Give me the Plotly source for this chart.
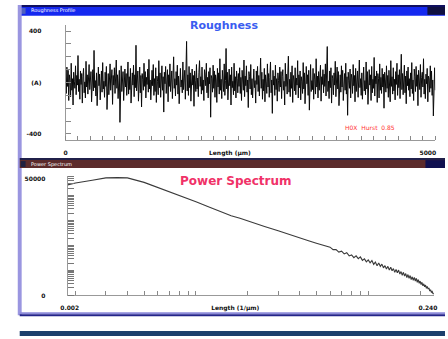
import plotly.graph_objects as go

# ---------------- data ----------------
rough = [
 40, -85, 120, -30, 95, -140, 60, 15, -110, 150, -60, 30, -175, 80, 10, -45, 130, -95, 55, -20,
 210, -70, 25, -130, 90, -15, 70, -160, 45, 110, -80, 5, -120, 165, -35, 60, -90, 20, 140, -55,
 -10, 85, -150, 35, 100, -65, 250, -40, 15, -105, 75, -180, 50, 120, -25, 65, -135, 30, 90, -75,
 155, -50, 10, -115, 80, -30, 125, -210, 40, 70, -95, 20, 145, -60, 5, 100, -170, 55, -20, 115,
 -85, 35, 175, -45, 60, -125, 25, 95, -310, 50, 130, -70, 15, 85, -140, 40, 105, -35, 70, -100,
 20, 160, -90, 45, -55, 110, -160, 30, 75, -20, 135, -110, 60, -40, 290, -65, 10, 90, -145, 35,
 120, -80, 55, -190, 70, 25, -60, 150, -30, 85, -120, 40, -15, 105, -75, 180, -50, 20, -135, 65,
 95, -25, 140, -100, 30, -70, 115, -155, 50, 10, -95, 170, -40, 75, -115, 25, 130, -60, 45, -230,
 80, -10, 125, -85, 35, 100, -150, 60, -30, 145, -70, 15, 90, -125, 55, 200, -45, 30, -105, 85,
 -20, 135, -90, 50, -165, 70, 110, -35, 20, -80, 160, -55, 40, 95, -130, 25, 320, -65, 60, -100,
 125, -40, 75, -145, 30, 105, -20, 55, -185, 90, 15, -70, 140, -50, 35, -110, 80, 170, -30, 45,
 -90, 120, -60, 20, -140, 100, 65, -25, 150, -80, 40, -120, 85, -10, 115, -270, 55, 30, -75, 135,
 -45, 90, -115, 60, 20, -155, 110, -35, 75, -90, 185, -60, 25, -125, 95, 40, -70, 145, -100, 15,
 265, -50, 80, -135, 35, 105, -25, 60, -175, 120, -40, 10, -95, 150, -65, 45, -120, 90, 30, -80,
 70, -30, 115, -85, 40, -140, 95, 10, -60, 175, -110, 50, -25, 130, -75, 20, -195, 85, 45, -50,
 140, -95, 30, -120, 65, 105, -40, 15, -160, 90, -15, 125, -70, 55, -105, 35, 190, -45, 80, -130,
 25, -65, 110, -150, 60, 5, -85, 145, -35, 70, -115, 40, 160, -80, 20, -240, 95, -20, 50, -100,
 135, -55, 30, -145, 75, 15, -70, 120, -35, 85, -125, 45, 100, -60, 10, -175, 150, -30, 65, -90,
 40, 205, -75, 25, -110, 80, -45, 130, -155, 55, 20, -65, 115, -95, 35, -20, 170, -120, 60, -40,
 90, -135, 45, 10, -85, 155, -50, 75, -165, 30, 125, -10, 60, -100, 95, -215, 40, 140, -70, 15,
 -55, 110, -130, 70, 25, -90, 185, -35, 50, -120, 85, -60, 20, 135, -145, 45, -15, 100, -80, 65,
 -30, 145, -105, 35, 280, -70, 10, -125, 90, -40, 115, -160, 55, 30, -95, 75, -20, 165, -110, 40,
 120, -50, 85, -180, 20, 60, -75, 130, -35, 95, -140, 25, 70, -60, 150, -90, 45, -255, 80, 15,
 -45, 105, -120, 65, 35, -85, 140, -25, 55, -150, 110, -70, 20, 90, -115, 50, 175, -40, 30, -100,
 75, -130, 40, 120, -65, 15, -95, 160, -50, 85, -170, 35, 100, -20, 60, -140, 125, -80, 25, -45,
 195, -105, 50, -10, 90, -155, 70, 30, -120, 145, -60, 40, -85, 110, -35, 65, -200, 80, 20, -75,
 130, -45, 55, -115, 95, 10, -150, 170, -30, 45, -90, 115, -65, 25, -135, 85, -15, 150, -100, 60,
 -40, 100, -125, 35, 220, -55, 70, -95, 15, 135, -80, 50, -165, 90, -25, 120, -60, 30, -110, 75,
 -50, 155, -85, 20, -140, 105, 45, -70, 125, -30, 60, -180, 95, 10, -55, 140, -115, 40, 80, -35,
 185, -90, 25, -125, 65, -10, 110, -150, 50, 30, -75, 130, -45, 90, -100, 20, -260, 70, 115, -60,
]
rough_len = 5000

freq = [0.0018, 0.002, 0.0025, 0.003, 0.0035, 0.004, 0.005, 0.006, 0.007, 0.008, 0.009,
        0.01, 0.012, 0.014, 0.016, 0.018, 0.02, 0.025, 0.03, 0.035, 0.04, 0.045, 0.05,
        0.055,
        0.0600, 0.0625, 0.0650, 0.0675, 0.0700, 0.0725, 0.0750, 0.0775, 0.0800, 0.0825,
        0.0850, 0.0875, 0.0900, 0.0925, 0.0950, 0.0975, 0.1000, 0.1025, 0.1050, 0.1075,
        0.1100, 0.1125, 0.1150, 0.1175, 0.1200, 0.1225, 0.1250, 0.1275, 0.1300, 0.1325,
        0.1350, 0.1375, 0.1400, 0.1425, 0.1450, 0.1475, 0.1500, 0.1525, 0.1550, 0.1575,
        0.1600, 0.1625, 0.1650, 0.1675, 0.1700, 0.1725, 0.1750, 0.1775, 0.1800, 0.1825,
        0.1850, 0.1875, 0.1900, 0.1925, 0.1950, 0.1975, 0.2000, 0.2025, 0.2050, 0.2075,
        0.2100, 0.2125, 0.2150, 0.2175, 0.2200, 0.2225, 0.2250, 0.2275, 0.2300, 0.2325,
        0.2350, 0.2375, 0.2400]
power = [27500, 33000, 42500, 52500, 53700, 52500, 34700, 21900, 15100, 10700, 7760,
         5750, 3470, 2240, 1585, 1260, 977, 589, 398, 275, 209, 158, 126,
         100,
         87.1, 69.2, 69.2, 55.0, 60.3, 46.8, 52.5, 38.9, 42.7, 33.1,
         38.9, 30.2, 35.5, 25.7, 29.5, 22.4, 26.9, 20.4, 25.1, 17.8,
         21.9, 15.5, 20.0, 14.8, 18.2, 12.9, 15.8, 11.5, 14.8, 10.5,
         13.5, 9.77, 12.0, 8.51, 11.0, 8.13, 10.5, 7.24, 9.12, 6.46,
         8.51, 6.03, 7.59, 5.25, 6.92, 4.90, 6.31, 4.37, 5.62, 4.07,
         5.37, 3.80, 4.90, 3.39, 4.37, 3.09, 3.80, 2.75, 3.39, 2.45,
         2.95, 2.24, 2.63, 1.95, 2.29, 1.82, 2.00, 1.51, 1.70, 1.35,
         1.45, 1.20, 1.15]

rough_yticks = [-400, 0, 400]
rough_ytext = ["-400", "(A)", "400"]
rough_xticks = [0, 2222, 4900]
rough_xtext = ["0", "Length (µm)", "5000"]
ps_xticks = [0.00185, 0.0169, 0.222]
ps_xtext = ["0.002", "Length (1/µm)", "0.240"]
ps_yticks = [1, 50000]
ps_ytext = ["0", "50000"]

W, H = 448, 339
def px(x): return x / W
def py(y): return 1 - y / H

xs = [i * rough_len / (len(rough) - 1) for i in range(len(rough))]

fig = go.Figure()
fig.add_trace(go.Scatter(x=xs, y=rough, mode="lines",
                         line=dict(color="#0a0a0a", width=1.0),
                         xaxis="x", yaxis="y", showlegend=False, hoverinfo="skip"))
fig.add_trace(go.Scatter(x=freq, y=power, mode="lines",
                         line=dict(color="#3a3a3a", width=1.1),
                         xaxis="x2", yaxis="y2", showlegend=False, hoverinfo="skip"))

tickfont = dict(family="DejaVu Sans", size=6, color="#111111", weight="bold")

log_minor_x = [m * 10 ** e for e in (-3, -2, -1) for m in range(1, 10)
               if 0.0018 <= m * 10 ** e <= 0.24]
log_minor_y = [m * 10 ** e for e in range(0, 5) for m in range(1, 10)]

fig.update_layout(
    width=W, height=H, margin=dict(l=0, r=0, t=0, b=0),
    paper_bgcolor="white", plot_bgcolor="white",
    xaxis=dict(domain=[px(60), px(438)], anchor="y", range=[0, 5000],
               showgrid=False, zeroline=False, showline=True, linecolor="#999999",
               tickmode="array", tickvals=rough_xticks, ticktext=rough_xtext,
               ticks="", tickfont=tickfont, ticklabelstandoff=6,
               minor=dict(tickmode="linear", tick0=0, dtick=5000 / 30, ticks="inside",
                          ticklen=4, tickcolor="#888888", showgrid=False)),
    yaxis=dict(domain=[py(141), py(24)], anchor="x", range=[-450, 450],
               showgrid=False, zeroline=False, showline=True, linecolor="#999999",
               tickmode="array", tickvals=rough_yticks, ticktext=rough_ytext,
               ticks="", tickfont=tickfont, ticklabelstandoff=22,
               minor=dict(tickmode="linear", tick0=0, dtick=100, ticks="inside",
                          ticklen=5, tickcolor="#888888", showgrid=False)),
    xaxis2=dict(domain=[px(62), px(437)], anchor="y2", type="log",
                range=[-2.745, -0.617],
                showgrid=False, zeroline=False, showline=True, linecolor="#999999",
                tickmode="array", tickvals=ps_xticks, ticktext=ps_xtext,
                ticks="", tickfont=tickfont, ticklabelstandoff=6,
                minor=dict(tickmode="array", tickvals=log_minor_x, ticks="inside",
                           ticklen=4, tickcolor="#888888", showgrid=False)),
    yaxis2=dict(domain=[py(298), py(177)], anchor="x2", type="log",
                range=[0, 4.8],
                showgrid=False, zeroline=False, showline=True, linecolor="#999999",
                tickmode="array", tickvals=ps_yticks, ticktext=ps_ytext,
                ticks="", tickfont=tickfont, ticklabelstandoff=20,
                minor=dict(tickmode="array", tickvals=log_minor_y, ticks="inside",
                           ticklen=6, tickcolor="#777777", showgrid=False)),
)

shapes = []
def rect(x0, y0, x1, y1, color):
    shapes.append(dict(type="rect", xref="paper", yref="paper",
                       x0=px(x0), x1=px(x1), y0=py(y1), y1=py(y0),
                       fillcolor=color, line=dict(width=0), layer="above"))

# window chrome
rect(13, 4, 448, 6, "#101060")
rect(13, 6, 448, 15, "#1428f0")
rect(430, 6, 448, 14, "#101040")
rect(14, 7, 19, 13, "#5060c0")
rect(11, 4, 15, 318, "#9a96e0")
rect(13, 159, 448, 161, "#20204a")
rect(13, 161, 448, 169, "#5c2b2b")
rect(428, 161, 448, 169, "#101050")
rect(14, 162, 19, 168, "#202040")
rect(13, 315, 448, 317, "#8c8ad8")
rect(13, 317, 448, 319, "#24248a")
rect(13, 334, 448, 339, "#1c3f6c")

annos = [
    dict(text="<b>Roughness</b>", x=px(222), y=py(25), font=dict(family="DejaVu Sans", size=11, color="#3a5cf0")),
    dict(text="<b>Power Spectrum</b>", x=px(234), y=py(182), font=dict(family="DejaVu Sans", size=12, color="#f03268")),
    dict(text="H0X  Hurst  0.85", x=px(371), y=py(128), font=dict(family="DejaVu Sans", size=6, color="#ff3333")),
    dict(text="Roughness Profile", x=px(22), y=py(10), xanchor="left", font=dict(family="DejaVu Sans", size=5, color="#ffffff")),
    dict(text="Power Spectrum", x=px(22), y=py(165), xanchor="left", font=dict(family="DejaVu Sans", size=5, color="#ffffff")),
]
for a in annos:
    a.setdefault("xanchor", "center")
    a.update(xref="paper", yref="paper", yanchor="middle", showarrow=False)

fig.update_layout(shapes=shapes, annotations=annos)
fig.write_html("out.html", config={"displayModeBar": False},
               post_script="document.body.style.margin='0';document.body.style.overflow='hidden';")
